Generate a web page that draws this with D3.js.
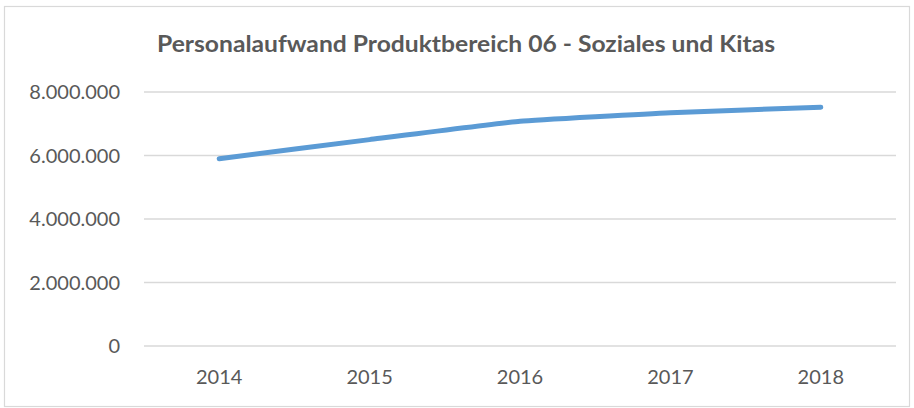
<!DOCTYPE html>
<html>
<head>
<meta charset="utf-8">
<script src="https://cdn.jsdelivr.net/npm/d3@7"></script>
<style>
  body { margin: 0; background: #fff; }
  text { font-family: Lato, "Open Sans", sans-serif; fill: #595959; }
</style>
</head>
<body>
<div id="chart"></div>
<script>
// data
var years = ["2014", "2015", "2016", "2017", "2018"];
var personalaufwand = [5900000, 6500000, 7080000, 7350000, 7520000];
var yTicks = [0, 2000000, 4000000, 6000000, 8000000];
var chartTitle = "Personalaufwand Produktbereich 06 - Soziales und Kitas";

var W = 914, H = 408;
var margin = { top: 92, right: 18, bottom: 62, left: 144 };
var width = 896 - margin.left,
    height = 346 - margin.top;

var svg = d3.select("#chart").append("svg")
    .attr("width", W)
    .attr("height", H);

// outer frame
svg.append("rect")
    .attr("x", 4.5).attr("y", 6.5)
    .attr("width", 905).attr("height", 400)
    .attr("fill", "none")
    .attr("stroke", "#d9d9d9")
    .attr("stroke-width", 1.2);

svg.append("text")
    .attr("x", 466)
    .attr("y", 52)
    .attr("text-anchor", "middle")
    .attr("textLength", 618)
    .attr("lengthAdjust", "spacingAndGlyphs")
    .style("font-size", "22px")
    .style("font-weight", "bold")
    .text(chartTitle);

var g = svg.append("g")
    .attr("transform", "translate(" + margin.left + "," + margin.top + ")");

var x = d3.scaleBand().domain(years).range([0, width]);
var y = d3.scaleLinear().domain([0, 8000000]).range([height, 0]);

var fmt = function(v) { return d3.format(",")(v).replace(/,/g, "."); };

// gridlines
g.selectAll(".grid")
    .data(yTicks)
    .enter().append("line")
    .attr("x1", 0).attr("x2", width)
    .attr("y1", function(d) { return y(d); })
    .attr("y2", function(d) { return y(d); })
    .attr("stroke", "#d9d9d9")
    .attr("stroke-width", 1.5);

// y labels
g.selectAll(".ylab")
    .data(yTicks)
    .enter().append("text")
    .attr("x", -24)
    .attr("y", function(d) { return y(d); })
    .attr("dy", "0.36em")
    .attr("text-anchor", "end")
    .style("font-size", "20px")
    .text(fmt);

// x labels
g.selectAll(".xlab")
    .data(years)
    .enter().append("text")
    .attr("x", function(d) { return x(d) + x.bandwidth() / 2; })
    .attr("y", height + 38)
    .attr("text-anchor", "middle")
    .style("font-size", "20px")
    .text(function(d) { return d; });

var line = d3.line()
    .x(function(d, i) { return x(years[i]) + x.bandwidth() / 2; })
    .y(function(d) { return y(d); })
    .curve(d3.curveCardinal.tension(0.7));

g.append("path")
    .datum(personalaufwand)
    .attr("d", line)
    .attr("fill", "none")
    .attr("stroke", "#5b9bd5")
    .attr("stroke-width", 5)
    .attr("stroke-linecap", "round")
    .attr("stroke-linejoin", "round");
</script>
</body>
</html>
